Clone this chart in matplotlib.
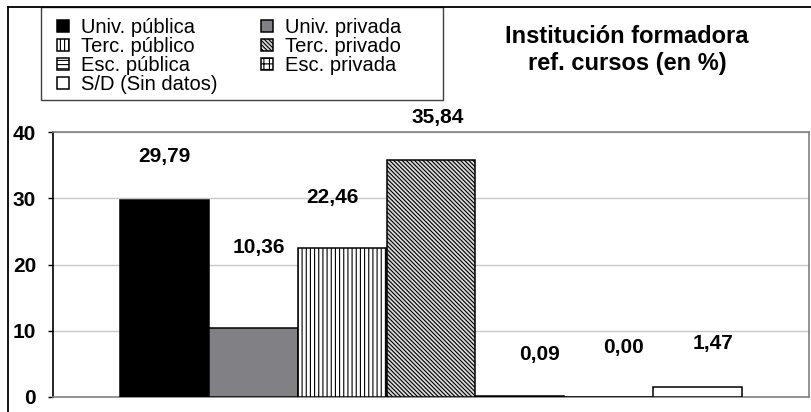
import matplotlib
matplotlib.use('Agg')
import matplotlib.pyplot as plt
from matplotlib.patches import Rectangle
from matplotlib.lines import Line2D

plt.rcParams['font.family'] = ['Liberation Sans', 'DejaVu Sans']
plt.rcParams['hatch.linewidth'] = 0.8
plt.rcParams['hatch.color'] = 'black'

# ---- data ----
categories = ['Univ. pública', 'Univ. privada', 'Terc. público', 'Terc. privado',
              'Esc. pública', 'Esc. privada', 'S/D (Sin datos)']
values = [29.79, 10.36, 22.46, 35.84, 0.09, 0.00, 1.47]
value_labels = ['29,79', '10,36', '22,46', '35,84', '0,09', '0,00', '1,47']
yticks = [0, 10, 20, 30, 40]
title = 'Institución formadora\nref. cursos (en %)'

# ---- styles ----
faces = ['black', '#808085', 'white', '#d8d8d8', 'white', 'white', 'white']
hatches = [None, None, '||||', '\\\\\\\\\\\\\\\\', '----', '+++', None]
label_offsets_px = [(0, 43), (6, 81), (-10, 51), (7, 42), (20, 42), (15, 49), (15, 44)]

W, H = 812, 412
fig = plt.figure(figsize=(W / 100, H / 100), dpi=100)
ax = fig.add_axes([53 / W, 15 / H, 756 / W, 265 / H])

x = list(range(len(values)))
bars = ax.bar(x, values, width=1.0, color=faces, edgecolor='black', linewidth=1.1, zorder=3)
for b, h in zip(bars, hatches):
    if h:
        b.set_hatch(h)

for xi, v, lab, off in zip(x, values, value_labels, label_offsets_px):
    ax.annotate(lab, (xi, v), xytext=off, textcoords='offset pixels',
                ha='center', va='center', fontsize=15, fontweight='bold', zorder=5)

ax.set_xlim(-1.254, len(values) - 1 + 1.254)
ax.set_ylim(0, 40)
ax.set_yticks(yticks)
ax.set_yticklabels([str(t) for t in yticks], fontsize=15, fontweight='bold')
ax.set_xticks([])
ax.tick_params(axis='y', direction='out', length=3.6, width=1, pad=8.6, colors='black')
ax.yaxis.grid(True, color='#c8c8c8', linewidth=1, zorder=0)
ax.set_axisbelow(True)
ax.spines['left'].set_color('black')
ax.spines['left'].set_linewidth(1.2)
for s in ['top', 'right', 'bottom']:
    ax.spines[s].set_color('#808080')
    ax.spines[s].set_linewidth(1.2)

# legend (row-wise order like the original)
order = [0, 2, 4, 6, 1, 3, 5]
leg = ax.legend([bars[i] for i in order], [categories[i] for i in order],
                ncol=2, loc='upper left', bbox_to_anchor=(57 / W, 1 - 18 / H),
                bbox_transform=fig.transFigure, frameon=False, fontsize=14.5,
                handlelength=0.6, handleheight=0.6, handletextpad=0.6,
                columnspacing=2.16, labelspacing=0.0, borderpad=0, borderaxespad=0)

fig.add_artist(Rectangle((41 / W, 1 - 100 / H), (443 - 41) / W, 93 / H,
                         transform=fig.transFigure, fill=False, edgecolor='#404040', linewidth=1))
fig.add_artist(Line2D([8 / W, 8 / W], [0, 1 - 7 / H], transform=fig.transFigure,
                      color='black', linewidth=1.3))
fig.add_artist(Line2D([8 / W, 1], [1 - 7 / H, 1 - 7 / H], transform=fig.transFigure,
                      color='black', linewidth=1.3))

fig.text(627 / W, 1 - 50 / H, title, ha='center', va='center', fontsize=17,
         fontweight='bold', linespacing=1.2)

fig.savefig('out.png', dpi=100)
